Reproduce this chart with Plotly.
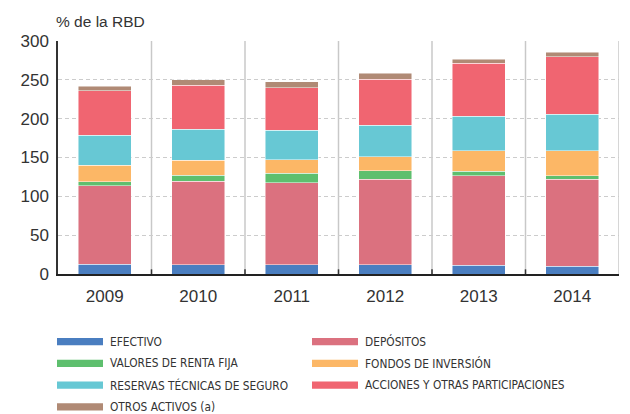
import plotly.graph_objects as go

years = ["2009", "2010", "2011", "2012", "2013", "2014"]

efectivo = [12.5, 12.0, 11.6, 12.0, 11.2, 10.3]
depositos = [101.0, 107.7, 106.0, 110.3, 115.0, 112.0]
renta_fija = [5.2, 7.3, 12.0, 10.7, 6.4, 4.3]
fondos = [21.5, 19.4, 17.2, 18.0, 25.8, 32.0]
reservas = [38.6, 40.3, 38.6, 40.8, 44.6, 47.0]
acciones = [57.1, 56.3, 54.1, 59.2, 68.2, 74.2]
otros = [6.0, 7.2, 8.1, 7.4, 5.2, 6.0]

series = [
    ("EFECTIVO", efectivo, "#4a7ec0"),
    ("DEPÓSITOS", depositos, "#db717f"),
    ("VALORES DE RENTA FIJA", renta_fija, "#5ebf6e"),
    ("FONDOS DE INVERSIÓN", fondos, "#fcb766"),
    ("RESERVAS TÉCNICAS DE SEGURO", reservas, "#67c8d4"),
    ("ACCIONES Y OTRAS PARTICIPACIONES", acciones, "#f06571"),
    ("OTROS ACTIVOS (a)", otros, "#b08a75"),
]

W, H = 630, 414
L, R, T, B = 58, 11, 41, 140
PW, PH = W - L - R, H - T - B

FONT = "DejaVu Sans Condensed, Liberation Sans Narrow, sans-serif"
BASE = "Arial, Liberation Sans, sans-serif"


def px(x):
    return (x - L) / PW


def py(y):
    return (H - B - y) / PH


fig = go.Figure()
for name, vals, color in series:
    fig.add_trace(go.Bar(
        x=years, y=vals, name=name,
        marker=dict(color=color, line=dict(color="rgba(255,255,255,0.6)", width=0.8)),
    ))

# vertical separators between years, small ticks at the base
for i in range(len(years)):
    fig.add_shape(type="line", xref="x", yref="paper", x0=i + 0.5, x1=i + 0.5,
                  y0=0, y1=1, line=dict(color="#c8c8c8", width=1.5), layer="below")
    if i < len(years) - 1:
        fig.add_shape(type="line", xref="x", yref="y", x0=i + 0.5, x1=i + 0.5,
                      y0=0, y1=6, line=dict(color="#333333", width=1.5))

# hand-made legend: two columns, wide swatches
for k, (name, vals, color) in enumerate(series):
    row, col = divmod(k, 2)
    x0 = 57 + col * 255
    yc = 341.7 + row * 21.7
    fig.add_shape(type="rect", xref="paper", yref="paper",
                  x0=px(x0), x1=px(x0 + 46), y0=py(yc - 3.6), y1=py(yc + 3.6),
                  fillcolor=color, line=dict(width=0))
    fig.add_annotation(text=name, xref="paper", yref="paper", x=px(x0 + 51), y=py(yc),
                       xanchor="left", yanchor="middle", showarrow=False,
                       font=dict(family=FONT, size=11.8, color="#333333"))

fig.add_annotation(text="% de la RBD", xref="paper", yref="paper", x=px(54), y=py(22),
                   xanchor="left", yanchor="middle", showarrow=False,
                   font=dict(family=BASE, size=15.5, color="#333333"))

fig.update_layout(
    barmode="stack",
    bargap=0.43,
    showlegend=False,
    width=W, height=H,
    margin=dict(l=L, r=R, t=T, b=B),
    plot_bgcolor="white", paper_bgcolor="white",
    font=dict(family=BASE, size=17, color="#333333"),
    xaxis=dict(
        range=[-0.5, 5.5], showgrid=False, showline=True, linecolor="#222222", linewidth=1.5,
        ticks="", tickfont=dict(size=17, color="#333333"), ticklabelstandoff=6,
    ),
    yaxis=dict(
        range=[0, 300], dtick=50, showgrid=True, gridcolor="#cccccc", griddash="4px,3px",
        gridwidth=1.2, showline=True, linecolor="#333333", linewidth=1.5, zeroline=False,
        ticks="", tickfont=dict(size=17, color="#333333"), ticklabelstandoff=4,
    ),
)

fig.write_html("out.html", config={"displayModeBar": False},
               post_script="document.body.style.margin='0';")
